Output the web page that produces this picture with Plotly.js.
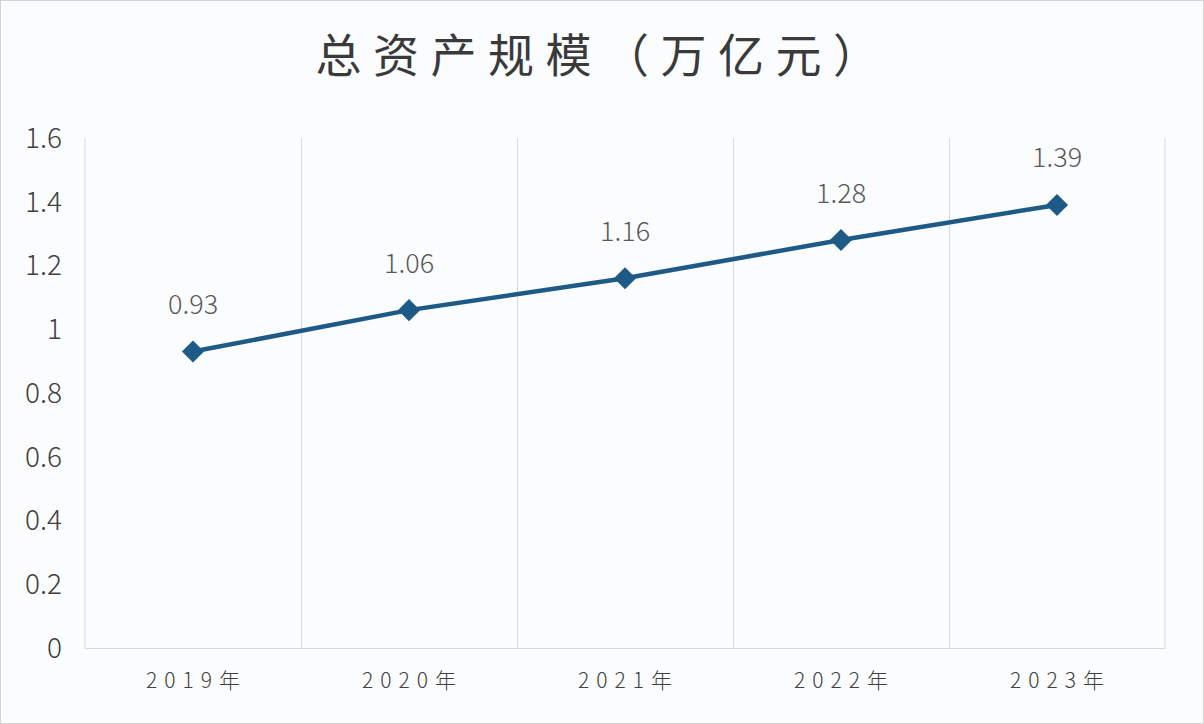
<!DOCTYPE html>
<html><head><meta charset="utf-8">
<script src="https://cdn.plot.ly/plotly-3.0.1.min.js"></script>
<style>
html,body{margin:0;padding:0;background:#fbfcfe;}
#wrap{width:1202px;height:722px;border:1px solid #d4d4d4;}
</style></head>
<body><div id="wrap"><div id="chart"></div></div>
<script>
const categories = ['2019年','2020年','2021年','2022年','2023年'];
const values = [0.93, 1.06, 1.16, 1.28, 1.39];
const labels = ['0.93','1.06','1.16','1.28','1.39'];
const yTicks = [0, 0.2, 0.4, 0.6, 0.8, 1, 1.2, 1.4, 1.6];
const yTickText = ['0','0.2','0.4','0.6','0.8','1','1.2','1.4','1.6'];
const titleText = '总资产规模（万亿元）';

const spaced = s => Array.from(s).join('\u2004');
const F = '"Noto Sans CJK SC", "Noto Sans", sans-serif';

const trace = {
  x: categories, y: values, type: 'scatter', mode: 'lines+markers',
  line: {color: '#1d5b86', width: 4.5},
  marker: {symbol: 'diamond', size: 17, color: '#1d5b86'},
  hoverinfo: 'skip'
};

const annotations = categories.map((c, i) => ({
  x: c, y: values[i], text: labels[i], showarrow: false, yshift: 49,
  font: {family: F, size: 27, color: '#5a5a5a', weight: 300}
}));

const edgeLine = px => ({type: 'line', xref: 'paper', yref: 'paper', x0: px, x1: px, y0: 0, y1: 1,
  line: {color: '#d9d9d9', width: 1}, layer: 'below'});

const layout = {
  width: 1202, height: 722,
  paper_bgcolor: '#fbfcfe', plot_bgcolor: '#fbfcfe',
  margin: {l: 84, r: 38, t: 137, b: 75},
  showlegend: false,
  title: {text: Array.from(titleText).join('\u2005'), x: 0.496, xanchor: 'center', y: 0.924, yanchor: 'middle',
    font: {family: F, size: 46, color: '#3a3a3a', weight: 400}},
  xaxis: {
    type: 'category', range: [-0.5, 4.5], tickson: 'boundaries',
    tickvals: categories, ticktext: categories.map(spaced),
    showgrid: true, gridcolor: '#d9d9d9', gridwidth: 1,
    showline: true, linecolor: '#d9d9d9', linewidth: 1,
    ticks: '', ticklen: 0, ticklabelstandoff: 14,
    tickfont: {family: F, size: 21, color: '#404040', weight: 300},
    zeroline: false, fixedrange: true
  },
  yaxis: {
    range: [0, 1.6], tickvals: yTicks, ticktext: yTickText,
    showgrid: false, showline: false, zeroline: false, ticks: '',
    ticklabelstandoff: 22,
    tickfont: {family: F, size: 28, color: '#404040', weight: 300},
    fixedrange: true
  },
  shapes: [edgeLine(0), edgeLine(1)],
  annotations: annotations
};

Plotly.newPlot('chart', [trace], layout, {displayModeBar: false, staticPlot: true});
</script></body></html>
